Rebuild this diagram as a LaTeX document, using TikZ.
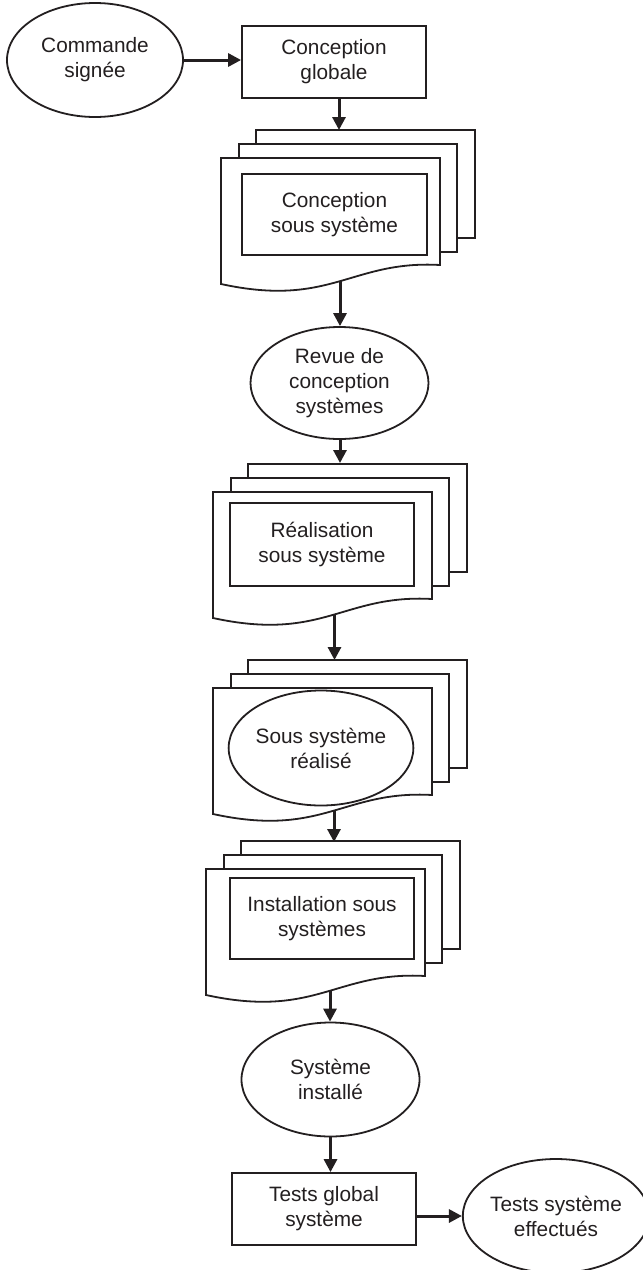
\documentclass[tikz,border=0pt]{standalone}
\usepackage{fontspec}
\setmainfont{Liberation Sans}
\usetikzlibrary{shapes.geometric,arrows.meta}
\definecolor{ink}{RGB}{35,31,32}
\tikzset{
  every node/.style={font=\fontsize{20.8}{25}\selectfont, text=ink, align=center},
  outline/.style={draw=ink, line width=1.8pt},
  oval/.style={outline, ellipse, minimum width=178pt, minimum height=112pt, inner sep=0pt},
  stepbox/.style={outline, rectangle, minimum width=184pt, minimum height=72pt, inner sep=0pt},
  innerbox/.style={outline, rectangle, minimum width=184pt, minimum height=82pt, inner sep=0pt},
  % lowers the text inside a node: the argument is the height of an invisible strut on the first line
  drop/.style={execute at begin node={\rule{0pt}{#1pt}}},
  flow/.style={draw=ink, line width=3pt, -{Triangle[length=13pt,width=13pt]}},
  sheet/.style={outline, fill=white, line join=miter},
  % a stack of three documents; the origin is the top-left corner of the front sheet
  multidoc/.pic={
    \path[sheet] (35,-28) rectangle (254,80);
    \path[sheet] (18,-14) rectangle (236,94);
    \path[sheet] (0,0) -- (219,0) -- (219,107)
      .. controls (130,102) and (110,150) .. (0,126) -- cycle;
  }
}
\begin{document}
\begin{tikzpicture}[x=1pt,y=-1pt]
\useasboundingbox (0,0) rectangle (643,1270);
\fill[white] (0,0) rectangle (643,1270);

\node[oval, minimum width=176pt, minimum height=114pt, drop=30] (cmd) at (95,60) {Commande\\signée};
\node[stepbox, drop=19] (cg) at (334,62) {Conception\\globale};

\pic (d1) at (221,158) {multidoc};
\node[innerbox, minimum width=185pt, minimum height=81pt, drop=24] (cs) at (334.5,214.5) {Conception\\sous système};

\node[oval, drop=34] (revue) at (339.5,383) {Revue de\\conception\\systèmes};

\pic (d2) at (213,492) {multidoc};
\node[innerbox, minimum height=83pt, drop=38] (rs) at (322,544.5) {Réalisation\\sous système};

\pic (d3) at (213,688) {multidoc};
\node[oval, minimum height=115pt, drop=33] (ssr) at (321,748) {Sous système\\réalisé};

\pic (d4) at (206,869) {multidoc};
\node[innerbox, minimum height=81pt, drop=26] (is) at (322,918.5) {Installation sous\\systèmes};

\node[oval, minimum height=114pt] (si) at (330.5,1079.5) {Système\\installé};
\node[stepbox, drop=21] (tg) at (324,1209) {Tests global\\système};
\node[oval, minimum width=174pt, minimum height=114pt] (te) at (556,1216) {Tests système\\effectués};

% where the connectors meet the document stacks
\coordinate (d1in) at (339,130);
\coordinate (d1out) at (340,281);
\coordinate (d2in) at (340,463);
\coordinate (d2out) at (334.5,615);
\coordinate (d3in) at (334.5,660);
\coordinate (d3out) at (334,811);
\coordinate (d4in) at (334,842);
\coordinate (d4out) at (330,991);

\draw[flow] (cmd.east) -- (cmd.east -| cg.west);
\draw[flow] (cg.south -| d1in) -- (d1in);
\draw[flow] (d1out) -- (d1out |- revue.north);
\draw[flow] (revue.south -| d2in) -- (d2in);
\draw[flow] (d2out) -- (d3in);
\draw[flow] (d3out) -- (d4in);
\draw[flow] (d4out) -- (d4out |- si.north);
\draw[flow] (si.south) -- (si.south |- tg.north);
\draw[flow] (te.west -| tg.east) -- (te.west);
\end{tikzpicture}
\end{document}
